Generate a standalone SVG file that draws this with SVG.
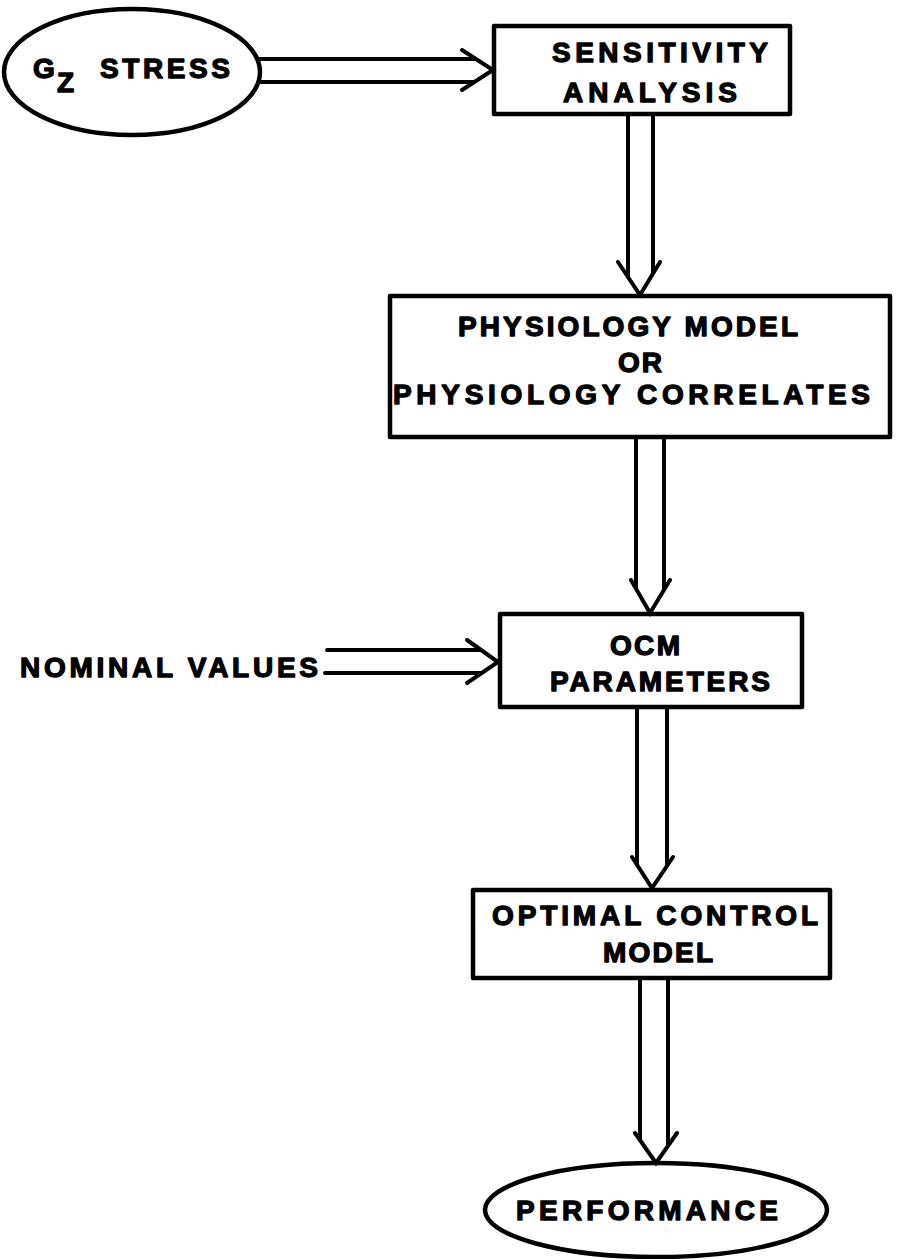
<svg xmlns="http://www.w3.org/2000/svg" width="897" height="1259" viewBox="0 0 897 1259">
<style>
.box{fill:none;stroke:#000;stroke-width:4.5;stroke-linejoin:round}
.conn{fill:none;stroke:#000;stroke-width:4;stroke-linejoin:miter;stroke-linecap:round}
.t{font-family:"Liberation Sans",Arial,sans-serif;font-weight:bold;font-size:28px;fill:#000;stroke:#000;stroke-width:1.3;stroke-linejoin:round}
</style>
<rect width="897" height="1259" fill="#fff"/>
<g id="gz-stress">
<ellipse class="box" cx="132" cy="72" rx="128" ry="63"/>
<text class="t" x="33" y="78">G</text>
<text class="t" x="57" y="92" font-size="26">Z</text>
<text class="t" x="100" y="78" textLength="130" lengthAdjust="spacing">STRESS</text>
</g>
<g id="sensitivity">
<rect class="box" x="494" y="26" width="296" height="88"/>
<text class="t" x="552" y="62" textLength="216" lengthAdjust="spacing">SENSITIVITY</text>
<text class="t" x="563" y="102" textLength="174" lengthAdjust="spacing">ANALYSIS</text>
</g>
<g id="physiology">
<rect class="box" x="390" y="296" width="500" height="141"/>
<text class="t" x="458" y="336" textLength="340" lengthAdjust="spacing">PHYSIOLOGY MODEL</text>
<text class="t" x="618" y="372" textLength="44" lengthAdjust="spacing">OR</text>
<text class="t" x="393" y="404" textLength="477" lengthAdjust="spacing">PHYSIOLOGY CORRELATES</text>
</g>
<g id="nominal">
<text class="t" x="20" y="677" textLength="298" lengthAdjust="spacing">NOMINAL VALUES</text>
</g>
<g id="ocm">
<rect class="box" x="500" y="614" width="302" height="93"/>
<text class="t" x="610" y="655" textLength="70" lengthAdjust="spacing">OCM</text>
<text class="t" x="550" y="691" textLength="220" lengthAdjust="spacing">PARAMETERS</text>
</g>
<g id="optimal">
<rect class="box" x="473" y="890" width="357" height="88"/>
<text class="t" x="492" y="925" textLength="326" lengthAdjust="spacing">OPTIMAL CONTROL</text>
<text class="t" x="603" y="962" textLength="110" lengthAdjust="spacing">MODEL</text>
</g>
<g id="performance">
<ellipse class="box" cx="656" cy="1210" rx="171" ry="47"/>
<text class="t" x="516" y="1220" textLength="262" lengthAdjust="spacing">PERFORMANCE</text>
</g>
<g id="connectors">
<path class="conn" d="M260,59 H476 M260,82 H474 M462,50 L493,70 L462,90"/>
<path class="conn" d="M327,650 H481 M325,673 H482 M467,640 L498,662 L467,683"/>
<path class="conn" d="M628,114 V277 M653,114 V273 M618,262 L640,295 L660,262"/>
<path class="conn" d="M636,437 V589 M664,437 V590 M631,580 L650,613 L670,580"/>
<path class="conn" d="M637,707 V865 M667,707 V866 M632,857 L652,888 L673,857"/>
<path class="conn" d="M640,978 V1140 M668,978 V1146 M635,1133 L656,1163 L677,1133"/>
</g>
</svg>
